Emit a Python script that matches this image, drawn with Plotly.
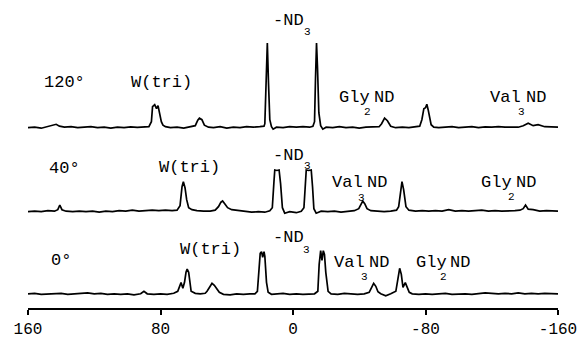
import plotly.graph_objects as go

# ---------------- data (kHz, intensity above baseline) ----------------
khz_120 = [160, 156, 152, 148, 145, 143, 141, 138, 134, 130,
           126, 122, 118, 114, 110, 106, 102, 98, 94, 90,
           87, 85.5, 84.8, 83.5, 82.4, 81.5, 80.6, 79.5, 78.5, 77,
           74, 70, 66, 62, 59, 57.5, 56.5, 55, 53.5, 51,
           48, 44, 40, 36, 32, 28, 24, 20, 17.5, 17,
           16.2, 15.5, 14.8, 14, 13, 12, 10, 6, 2, -2,
           -6, -10, -12, -13, -13.6, -14.2, -14.8, -15.6, -16.7, -18,
           -20, -24, -28, -32, -36, -40, -44, -48, -52, -53.5,
           -55.3, -57, -59, -62, -66, -70, -74, -76.5, -77.8, -79,
           -80, -80.8, -81.6, -82.5, -83.4, -85, -88, -92, -96, -100,
           -104, -108, -112, -116, -120, -124, -128, -132, -136, -139,
           -142, -145, -148, -152, -156, -160]
int_120 = [0, 0.5, -0.5, 1, 2.5, 3.4, 1.5, 0.5, 1, 0,
           0.5, 1, 0, 0.5, -0.5, 0.5, 0, 0.8, 0.3, 0.5,
           1, 6, 21, 23, 19, 22, 15, 6, 2.5, 1,
           0, 0.5, -0.5, 0.5, 2, 7.5, 9.5, 8, 2.5, 0.5,
           0, 1, -0.5, 0.5, 0, 1, 0.5, 1, 1.5, 4,
           40, 84.7, 45, 8, 1, -1.5, 0.5, 0, 1, 0.5,
           1, 0.5, 1.5, 6, 50, 84.7, 60, 15, 2, -1.5,
           0.5, 0, 1, 0, 0.5, -0.5, 0.5, 1, 1, 4,
           9.5, 7, 1.5, 0, 0.5, 0, 0.5, 1.5, 8, 19,
           20, 23.4, 18, 12, 3, 0.5, 0, 0.5, 1, 0,
           0.5, 1, 0, 0.8, 0.5, 1, 0.5, 0.8, 0.5, 2,
           4.4, 2, 3, 1, 0.5, 0.5]

khz_40 = [160, 156, 152, 148, 144, 142, 140.8, 139.5, 137, 133,
          129, 125, 121, 117, 113, 109, 105, 101, 97, 93,
          89, 85, 81, 77, 73, 70, 68.2, 67, 66.2, 65.2,
          64.2, 63, 61, 58, 54, 50, 47, 45, 43.5, 42.5,
          41, 39.5, 37, 33, 29, 25, 21, 17, 14, 12.5,
          11.5, 11, 9.7, 8.4, 7.5, 6.4, 5, 2, -2, -5,
          -6.6, -7.5, -8, -9.5, -11, -11.8, -12.6, -14, -17, -21,
          -25, -29, -33, -37, -39.7, -41, -42.1, -43.3, -44.7, -47,
          -51, -55, -59, -62.5, -63.8, -64.8, -65.8, -66.8, -68.2, -70,
          -74, -78, -82, -86, -90, -94, -98, -102, -106, -110,
          -114, -118, -122, -126, -130, -134, -137, -139, -140.4, -142,
          -145, -149, -153, -157, -160]
int_40 = [0, 0.5, 0, 1, 0.5, 2, 6.7, 2, 0.5, 0,
          0.5, 0, 0.5, -0.5, 0.5, 0, 1, 0.5, 1.5, 0.5,
          1, 1.5, 1, 1.5, 1, 1.5, 6, 25, 30, 24,
          12, 4, 2, 1, 0.5, 0.5, 1.5, 5, 9.5, 10.7,
          7.5, 4, 2, 1, 0.5, -0.5, 0, -0.5, 1, 4,
          30, 41.7, 41.2, 41.7, 28, 4, -1.5, 0, -1, 0.5,
          4, 28, 41.7, 41.2, 41.7, 25, 3, -1.5, 0.5, 0,
          0.5, -0.5, 0, 1, 3, 8, 10.7, 8, 3, 1,
          0.5, 0, 0.5, 1.5, 5, 20, 30, 22, 5, 1.5,
          0.5, 1, 0.5, 1, 0.5, 2, 0.5, 1, 0.5, 1,
          1.5, 0.5, 1, 0.5, 0.5, 1, 1.5, 3, 6.7, 2.5,
          2, 0.5, 1, 0.5, 0.5]

khz_0 = [160, 156, 152, 148, 144, 140, 136, 132, 128, 124,
         120, 116, 112, 108, 104, 100, 96, 92, 90, 88,
         84, 80, 76, 72, 69.6, 68.5, 67.6, 66.5, 65.5, 64.6,
         63.9, 63, 62, 61.5, 59, 56, 53, 51.9, 50, 48.9,
         47.5, 46, 44.5, 42, 38, 34, 30, 26, 23, 21.5,
         20.5, 19.8, 19, 18.3, 17.5, 17, 16, 15, 13, 10,
         6, 2, -2, -6, -10, -13, -15, -15.8, -16.7, -17.5,
         -18.3, -19, -19.8, -21.2, -23, -27, -31, -35, -39, -43,
         -46, -47.5, -48.7, -50, -51.3, -53, -56, -59, -62.1, -63.3,
         -64.4, -65.4, -66.4, -67.8, -69, -70.2, -72, -76, -80, -84,
         -88, -92, -96, -100, -104, -108, -112, -116, -120, -124,
         -128, -132, -136, -140, -144, -148, -152, -156, -160]
int_0 = [0.5, 1, 0, 0.5, 0.5, 1, 0, 0.5, 0.5, 1.5,
         0.5, 1, 0, 0.5, 0, 0.5, -0.5, 0.5, 3, 0.5,
         0, 0.5, 0, 1, 3, 8, 11.7, 6, 12, 22,
         25.3, 22, 8, 3, 1, 0.5, 1, 3, 8, 11,
         9, 5, 2, 0, -0.5, 0.5, 0, 0.5, 0.5, 3,
         25, 41, 42.6, 37, 42.6, 38, 12, 2, 0, 0.5,
         1, 0, 0.5, 0, 0.5, 0.5, 3, 30, 43.6, 34,
         43.6, 40, 22, 3, 0.5, 0, 1, 0.5, 0, 0.5,
         2, 7, 11, 8, 2.5, 0.5, -1.5, 0.5, 3, 15,
         26, 20, 7, 11.7, 7, 2, 0.5, 0, 0.5, 0,
         0.5, 1, 0, 0.5, 0.5, 0, 1, 1.5, 1, 0.5,
         1, 0.5, 1.5, 0.5, 1, 0.5, 1, 0.5, 0.5]

tick_vals = [160, 80, 0, -80, -160]
tick_text = ["160", "80", "0", "-80", "-160"]

for a, b in [(khz_120, int_120), (khz_40, int_40), (khz_0, int_0)]:
    assert len(a) == len(b), (len(a), len(b))

# ---------------- layout geometry ----------------
W, H = 587, 354
ML, MR, MT, MB = 28, 27, 10, 46
PLOT_H = H - MT - MB
AXIS_PX = H - MB           # pixel row of the x axis line


def yv(py):
    """pixel row -> y-axis value (1 unit = 1 px)"""
    return AXIS_PX - py


def xv(px):
    """pixel column -> kHz"""
    return 160 - (px - ML) * 320.0 / (W - ML - MR)


offsets = {"120": yv(127.7), "40": yv(211.7), "0": yv(294.3)}

fig = go.Figure()
for key, xs, ys in [("120", khz_120, int_120), ("40", khz_40, int_40), ("0", khz_0, int_0)]:
    fig.add_trace(go.Scatter(
        x=xs, y=[v + offsets[key] for v in ys], mode="lines",
        line=dict(color="black", width=1.7), hoverinfo="skip", showlegend=False))

FONT = "Liberation Mono"
main_f = dict(family=FONT, size=17, color="black")
sub_f = dict(family=FONT, size=11, color="black")

# (text, left px, centre-y px, font, anchor)
labels = [
    ("120°", 43, 82, main_f, "left"),
    ("W(tri)", 130, 82, main_f, "left"),
    ("-ND", 273, 20, main_f, "left"),
    ("3", 309, 32, sub_f, "center"),
    ("Gly", 339, 97, main_f, "left"),
    ("ND", 374, 97, main_f, "left"),
    ("2", 369, 112, sub_f, "center"),
    ("Val", 491, 97, main_f, "left"),
    ("ND", 527, 97, main_f, "left"),
    ("3", 523, 112, sub_f, "center"),

    ("40°", 48, 168, main_f, "left"),
    ("W(tri)", 158, 167, main_f, "left"),
    ("-ND", 273, 155, main_f, "left"),
    ("3", 309, 166, sub_f, "center"),
    ("Val", 332, 182, main_f, "left"),
    ("ND", 367, 182, main_f, "left"),
    ("3", 363, 198, sub_f, "center"),
    ("Gly", 482, 182, main_f, "left"),
    ("ND", 517, 182, main_f, "left"),
    ("2", 513, 197, sub_f, "center"),

    ("0°", 50, 260, main_f, "left"),
    ("W(tri)", 180, 249, main_f, "left"),
    ("-ND", 273, 237, main_f, "left"),
    ("3", 308, 250, sub_f, "center"),
    ("Val", 334, 262, main_f, "left"),
    ("ND", 369, 262, main_f, "left"),
    ("3", 366, 277, sub_f, "center"),
    ("Gly", 416, 262, main_f, "left"),
    ("ND", 451, 262, main_f, "left"),
    ("2", 445, 277, sub_f, "center"),

    ("kHz", 297, 346, main_f, "center"),
]

annotations = []
for text, px, py, f, anc in labels:
    annotations.append(dict(
        x=xv(px), y=yv(py), xref="x", yref="y", text=text, showarrow=False,
        xanchor=anc, yanchor="middle", font=f, borderpad=0))

fig.update_layout(
    width=W, height=H,
    margin=dict(l=ML, r=MR, t=MT, b=MB, pad=0),
    paper_bgcolor="white", plot_bgcolor="white",
    annotations=annotations,
    xaxis=dict(range=[160, -160], tickvals=tick_vals, ticktext=tick_text,
               showgrid=False, zeroline=False, showline=True, linecolor="black",
               linewidth=2, ticks="outside", ticklen=5, tickwidth=1.5,
               tickcolor="black", tickfont=dict(family=FONT, size=16, color="black")),
    yaxis=dict(range=[0, PLOT_H], visible=False, showgrid=False, zeroline=False),
)

fig.write_html("out.html", config={"displayModeBar": False})
